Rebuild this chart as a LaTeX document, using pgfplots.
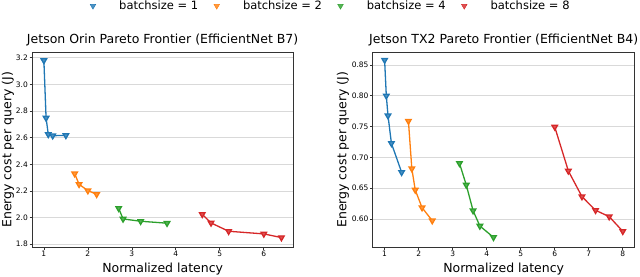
\documentclass[border=0pt]{standalone}
\usepackage{pgfplots}
\pgfplotsset{compat=1.18}
\usepackage{fontspec}
\setmainfont{DejaVu Sans}
\definecolor{c0}{HTML}{1F77B4}
\definecolor{c1}{HTML}{FF7F0E}
\definecolor{c2}{HTML}{2CA02C}
\definecolor{c3}{HTML}{D62728}
\pgfplotsset{
  myaxis/.style={
    scale only axis,
    axis line style={draw=black!80, line width=0.8pt},
    tick align=outside,
    xtick pos=bottom, ytick pos=left,
    major tick length=2.5pt,
    every tick/.style={black!80, line width=0.7pt},
    ymajorgrids,
    grid style={draw=black!15, line width=0.9pt},
    tick label style={font=\fontsize{7.5}{9}\selectfont},
    /pgf/number format/assume math mode=true,
    label style={font=\fontsize{12.5}{15}\selectfont},
    title style={font=\fontsize{12.5}{15}\selectfont, anchor=base, inner sep=0pt},
    xticklabel style={inner sep=1pt},
    yticklabel style={inner sep=1.5pt},
  },
  ser/.style={color=#1, line width=1.3pt, mark=triangle*, mark size=3.2pt,
    mark options={rotate=180, fill=#1!80!white, draw=#1}},
}
\begin{document}
\begin{tikzpicture}
\path[use as bounding box] (0,0) rectangle (640pt,276pt);
\begin{axis}[myaxis,
  at={(32pt,28.7pt)}, anchor=south west,
  width=261.3pt, height=195pt,
  xmin=0.73, xmax=6.67, ymin=1.777, ymax=3.241,
  xtick={1,2,3,4,5,6},
  ytick={1.8,2.0,2.2,2.4,2.6,2.8,3.0,3.2},
  yticklabel style={/pgf/number format/.cd, fixed, fixed zerofill, precision=1},
  title={Jetson Orin Pareto Frontier (EfficientNet B7)},
  title style={at={(axis description cs:0.5,1.0154)}},
  xlabel={Normalized latency},
  xlabel style={at={(axis description cs:0.5,-0.1267)}, anchor=base},
  ylabel={Energy cost per query (J)},
  ylabel style={at={(axis description cs:-0.092,0.5)}, anchor=center},
  legend columns=4,
  legend style={draw=none, fill=none, inner sep=0pt, outer sep=0pt,
    at={(1.140,1.2374)}, anchor=center,
    font=\fontsize{11.5}{14}\selectfont,
    /tikz/every odd column/.append style={column sep=23.5pt},
    /tikz/every even column/.append style={column sep=15.7pt},
    nodes={inner sep=0pt}},
  legend cell align=left,
]
\addlegendimage{only marks, mark=triangle*, mark size=3.2pt, color=c0, mark options={rotate=180, fill=c0!80!white}}
\addlegendentry{batchsize = 1}
\addlegendimage{only marks, mark=triangle*, mark size=3.2pt, color=c1, mark options={rotate=180, fill=c1!80!white}}
\addlegendentry{batchsize = 2}
\addlegendimage{only marks, mark=triangle*, mark size=3.2pt, color=c2, mark options={rotate=180, fill=c2!80!white}}
\addlegendentry{batchsize = 4}
\addlegendimage{only marks, mark=triangle*, mark size=3.2pt, color=c3, mark options={rotate=180, fill=c3!80!white}}
\addlegendentry{batchsize = 8}
\addplot[ser=c0, forget plot] coordinates {(1.0,3.18) (1.05,2.748) (1.1,2.625) (1.2,2.615) (1.5,2.617)};
\addplot[ser=c1, forget plot] coordinates {(1.7,2.33) (1.8,2.25) (2.0,2.2025) (2.2,2.175)};
\addplot[ser=c2, forget plot] coordinates {(2.7,2.07) (2.8,1.99) (3.2,1.9725) (3.8,1.958)};
\addplot[ser=c3, forget plot] coordinates {(4.6,2.025) (4.8,1.96) (5.2,1.8975) (6.0,1.8775) (6.4,1.85)};
\end{axis}
\begin{axis}[myaxis,
  at={(372.7pt,28.7pt)}, anchor=south west,
  width=262pt, height=195pt,
  xmin=0.65, xmax=8.35, ymin=0.554, ymax=0.8706,
  xtick={1,2,3,4,5,6,7,8},
  ytick={0.60,0.65,0.70,0.75,0.80,0.85},
  yticklabel style={/pgf/number format/.cd, fixed, fixed zerofill, precision=2},
  title={Jetson TX2 Pareto Frontier (EfficientNet B4)},
  title style={at={(axis description cs:0.5,1.0154)}},
  xlabel={Normalized latency},
  xlabel style={at={(axis description cs:0.5,-0.1267)}, anchor=base},
  ylabel={Energy cost per query (J)},
  ylabel style={at={(axis description cs:-0.1135,0.5)}, anchor=center},
]
\addplot[ser=c0] coordinates {(1.0,0.858) (1.05,0.800) (1.1,0.7677) (1.2,0.7228) (1.5,0.6758)};
\addplot[ser=c1] coordinates {(1.7,0.759) (1.8,0.6817) (1.9,0.6471) (2.1,0.6184) (2.4,0.5973)};
\addplot[ser=c2] coordinates {(3.2,0.6904) (3.4,0.6552) (3.6,0.6135) (3.8,0.5886) (4.2,0.5702)};
\addplot[ser=c3] coordinates {(6.0,0.7494) (6.4,0.678) (6.8,0.6363) (7.2,0.6141) (7.6,0.6038) (8.0,0.580)};
\end{axis}
\end{tikzpicture}
\end{document}
